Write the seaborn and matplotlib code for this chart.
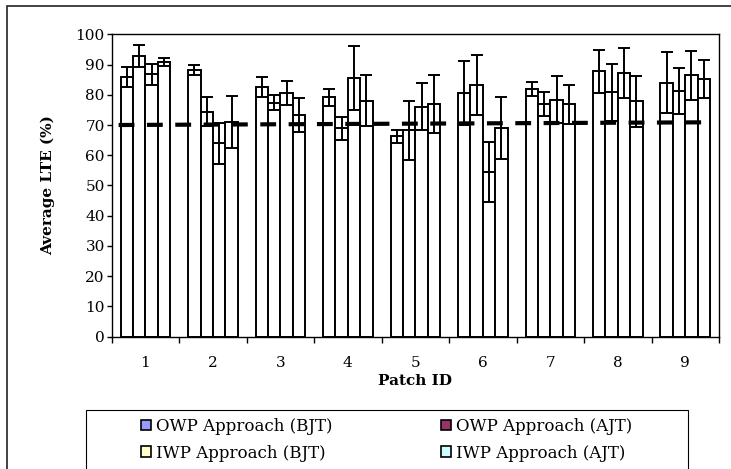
import matplotlib
matplotlib.use("Agg")
import matplotlib.pyplot as plt
import matplotlib.patches as mpatches
import numpy as np
import pandas as pd
import seaborn as sns

patch_ids = ["1", "2", "3", "4", "5", "6", "7", "8", "9"]
series_names = ["OWP Approach (BJT)", "OWP Approach (AJT)",
                "IWP Approach (BJT)", "IWP Approach (AJT)"]
legend_colors = ["#9999ff", "#993366", "#ffffcc", "#ccffff"]

owp_bjt = [85.8, 88.2, 82.5, 79.1, 66.2, 80.7, 82.0, 87.7, 84.0]
owp_ajt = [92.8, 74.4, 77.4, 68.9, 68.3, 83.2, 76.9, 80.8, 81.2]
iwp_bjt = [86.8, 63.9, 80.6, 85.6, 76.1, 54.4, 78.4, 87.1, 86.5]
iwp_ajt = [90.8, 71.0, 73.3, 78.1, 77.0, 69.0, 76.8, 77.8, 85.2]

owp_bjt_err = [3.3, 1.6, 3.4, 2.9, 2.3, 10.6, 2.3, 7.1, 10.0]
owp_ajt_err = [3.7, 4.8, 2.5, 3.8, 9.8, 9.9, 4.0, 9.5, 7.6]
iwp_bjt_err = [3.5, 6.8, 4.0, 10.5, 7.8, 10.0, 7.7, 8.3, 8.1]
iwp_ajt_err = [1.2, 8.5, 5.6, 8.4, 9.6, 10.3, 6.5, 8.5, 6.4]

# threshold line, left end and right end
threshold = [70.0, 70.9]

sns.set_style("ticks")
plt.rcParams["font.family"] = ["DejaVu Serif"]
plt.rcParams["text.color"] = "black"
plt.rcParams["axes.labelcolor"] = "black"
plt.rcParams["xtick.color"] = "black"
plt.rcParams["ytick.color"] = "black"

values = [owp_bjt, owp_ajt, iwp_bjt, iwp_ajt]
errors = [owp_bjt_err, owp_ajt_err, iwp_bjt_err, iwp_ajt_err]

rows = []
for name, vals in zip(series_names, values):
    for p, v in zip(patch_ids, vals):
        rows.append({"patch": p, "series": name, "lte": v})
df = pd.DataFrame(rows)

fig = plt.figure(figsize=(7.31, 4.69), dpi=100)
ax = fig.add_axes([0.1528, 0.2821, 0.8308, 0.6448])

sns.barplot(data=df, x="patch", y="lte", hue="series", hue_order=series_names,
            palette=["white"] * 4, saturation=1, edgecolor="black",
            linewidth=1.4, width=0.735, legend=False, ax=ax)
bar_groups = list(ax.containers)

for cont, errs in zip(bar_groups, errors):
    xs = [b.get_x() + b.get_width() / 2 for b in cont]
    hs = [b.get_height() for b in cont]
    ax.errorbar(xs, hs, yerr=errs, fmt="none", ecolor="black",
                elinewidth=1.4, capsize=4.5, capthick=1.4, zorder=3)

first_bar = bar_groups[0][0]
last_bar = bar_groups[-1][-1]
x_start = first_bar.get_x() - 0.03
x_end = last_bar.get_x() + last_bar.get_width() + 0.03
ax.plot([x_start, x_end], threshold, color="black", lw=3.0,
        dashes=(3.8, 3), solid_capstyle="butt", zorder=4)

ax.set_ylim(0, 100)
ax.set_yticks(range(0, 101, 10))
ax.set_xlim(-0.5, 8.5)
ax.set_xticks(np.arange(-0.5, 9, 1), minor=True)
ax.tick_params(axis="x", which="major", length=0, pad=14, labelsize=11)
ax.tick_params(axis="x", which="minor", length=4, width=1, direction="out")
ax.tick_params(axis="y", length=3.5, width=1, pad=1.5, labelsize=11)
for s in ax.spines.values():
    s.set_visible(True)
    s.set_linewidth(1)
    s.set_color("black")

ax.set_xlabel("Patch ID", fontsize=11, fontweight="bold", labelpad=3)
ax.set_ylabel("Average LTE (%)", fontsize=11, fontweight="bold", labelpad=14.5)

handles = [mpatches.Patch(facecolor=c, edgecolor="black", linewidth=1.2, label=n)
           for n, c in zip(series_names, legend_colors)]
order = [0, 2, 1, 3]
fig.legend(handles=[handles[i] for i in order], ncol=2, loc="upper center",
           bbox_to_anchor=(387 / 731, 1 - 410 / 469), frameon=False,
           fontsize=12, handlelength=0.6, handleheight=0.6, handletextpad=0.3,
           columnspacing=6.5, labelspacing=0.57, borderpad=0.48, borderaxespad=0)

fig.add_artist(mpatches.Rectangle((86 / 731, -0.2), (688 - 86) / 731,
                                  1 - 410 / 469 + 0.2, transform=fig.transFigure,
                                  fill=False, edgecolor="black", lw=0.8))
fig.add_artist(mpatches.Rectangle((7 / 731, -0.2), 1.2, 1 - 6 / 469 + 0.2,
                                  transform=fig.transFigure, fill=False,
                                  edgecolor="#222222", lw=1.2))

fig.savefig("out.png", dpi=100)
